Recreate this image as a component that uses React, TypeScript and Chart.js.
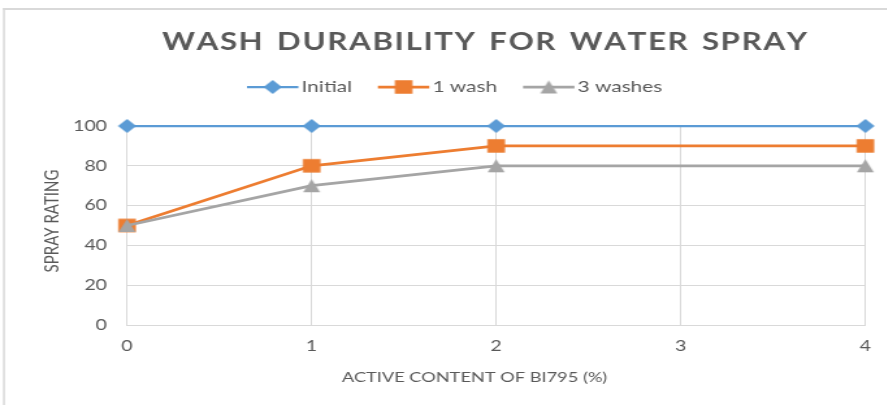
import React, { useEffect, useRef } from 'react';
import { Chart, registerables } from 'chart.js';

Chart.register(...registerables);

// ---- data ----
const xValues = [0, 1, 2, 4];
const initialRatings = [100, 100, 100, 100];
const oneWashRatings = [50, 80, 90, 90];
const threeWashRatings = [50, 70, 80, 80];
const seriesNames = ['Initial', '1 wash', '3 washes'];
const xTicks = [0, 1, 2, 3, 4];
const yTicks = [0, 20, 40, 60, 80, 100];

const titleText = 'WASH DURABILITY FOR WATER SPRAY';
const xAxisTitle = 'ACTIVE CONTENT OF BI795 (%)';
const yAxisTitle = 'SPRAY RATING';

// ---- layout / style ----
const STRETCH = 1.3;
const W = 682;
const H = 405;
const FONT = 'Lato, "Noto Sans", sans-serif';
const TEXT = '#595959';
const GRID = '#d9d9d9';
const colors = ['#5b9bd5', '#ed7d31', '#a5a5a5'];
const lineWidths = [2.25, 2.75, 2.75];

function makeMarker(kind: string, color: string, size: number): HTMLCanvasElement {
  const c = document.createElement('canvas');
  const dim = Math.ceil(size) + 4;
  c.width = dim;
  c.height = dim;
  const ctx = c.getContext('2d')!;
  const m = dim / 2;
  const h = size / 2;
  ctx.fillStyle = color;
  ctx.beginPath();
  if (kind === 'diamond') {
    ctx.moveTo(m, m - h);
    ctx.lineTo(m + h, m);
    ctx.lineTo(m, m + h);
    ctx.lineTo(m - h, m);
  } else if (kind === 'square') {
    ctx.rect(m - h, m - h, size, size);
  } else {
    ctx.moveTo(m, m - h);
    ctx.lineTo(m + h, m + h);
    ctx.lineTo(m - h, m + h);
  }
  ctx.closePath();
  ctx.fill();
  return c;
}

function drawSpaced(ctx: CanvasRenderingContext2D, text: string, cx: number, baseY: number, target: number) {
  const chars = [...text];
  const widths = chars.map((c) => ctx.measureText(c).width);
  const natural = widths.reduce((a, b) => a + b, 0);
  const spaces = chars.filter((c) => c === ' ').length;
  const unit = (target - natural) / (chars.length - 1 + 2 * spaces);
  let x = cx - target / 2;
  ctx.textAlign = 'left';
  ctx.textBaseline = 'alphabetic';
  chars.forEach((c, i) => {
    ctx.fillText(c, x, baseY);
    x += widths[i] + unit + (c === ' ' ? 2 * unit : 0);
  });
}

export default function App() {
  const ref = useRef<HTMLCanvasElement>(null);

  useEffect(() => {
    document.body.style.margin = '0';
    const canvas = ref.current!;
    const markers = [
      makeMarker('diamond', colors[0], 14),
      makeMarker('square', colors[1], 13.5),
      makeMarker('triangle', colors[2], 13),
    ];
    const series = [initialRatings, oneWashRatings, threeWashRatings];
    const datasets = series.map((vals, i) => ({
      label: seriesNames[i],
      data: xValues.map((x, j) => ({ x, y: vals[j] })),
      borderColor: colors[i],
      backgroundColor: colors[i],
      borderWidth: lineWidths[i],
      pointStyle: markers[i] as any,
      pointRadius: 7,
      pointHoverRadius: 7,
      order: 2 - i,
      clip: false as any,
      tension: 0,
    }));

    const overlay = {
      id: 'overlay',
      beforeDraw(chart: any) {
        const ctx = chart.ctx as CanvasRenderingContext2D;
        ctx.save();
        ctx.fillStyle = '#ffffff';
        ctx.fillRect(0, 0, chart.width, chart.height);
        ctx.fillStyle = GRID;
        ctx.fillRect(2.3, 8, chart.width, 2);
        ctx.fillRect(2.3, 8, 1.5, chart.height);
        ctx.restore();
      },
      afterDraw(chart: any) {
        const ctx = chart.ctx as CanvasRenderingContext2D;
        ctx.save();
        // title
        ctx.fillStyle = TEXT;
        ctx.font = `bold 24px ${FONT}`;
        drawSpaced(ctx, titleText, 372.7, 49.5, 496);

        // legend
        ctx.font = `16px ${FONT}`;
        let x = 190;
        const ly = 87;
        seriesNames.forEach((name, i) => {
          ctx.strokeStyle = colors[i];
          ctx.lineWidth = lineWidths[i];
          ctx.beginPath();
          ctx.moveTo(x, ly);
          ctx.lineTo(x + 39.5, ly);
          ctx.stroke();
          const mk = markers[i];
          ctx.drawImage(mk, x + 19.75 - mk.width / 2, ly - mk.height / 2);
          ctx.fillStyle = TEXT;
          ctx.textAlign = 'left';
          ctx.textBaseline = 'alphabetic';
          ctx.fillText(name, x + 42, 92);
          x += 42 + ctx.measureText(name).width + 20;
        });

        // x axis title
        ctx.font = `14px ${FONT}`;
        ctx.textAlign = 'center';
        ctx.textBaseline = 'alphabetic';
        ctx.fillText(xAxisTitle, 365, 381.5);

        // y axis title
        ctx.font = `15px ${FONT}`;
        ctx.translate(44.6, 221);
        ctx.rotate(-Math.PI / 2);
        ctx.fillText(yAxisTitle, 0, 0);
        ctx.restore();
      },
    };

    const chart = new Chart(canvas, {
      type: 'line',
      data: { datasets: datasets as any },
      options: {
        responsive: true,
        maintainAspectRatio: false,
        animation: false,
        events: [],
        layout: { padding: { top: 126, right: W - 666.2, left: 0, bottom: 0 } },
        plugins: {
          legend: { display: false },
          title: { display: false },
          tooltip: { enabled: false },
        },
        scales: {
          x: {
            type: 'linear',
            min: 0,
            max: 4,
            afterBuildTicks: (s: any) => {
              s.ticks = xTicks.map((v) => ({ value: v }));
            },
            afterFit: (s: any) => {
              s.height = H - 325;
            },
            grid: { color: GRID, lineWidth: 1, drawTicks: false },
            border: { color: GRID },
            ticks: { color: TEXT, font: { family: FONT, size: 15 }, padding: 12 },
          },
          y: {
            type: 'linear',
            min: 0,
            max: 100,
            afterBuildTicks: (s: any) => {
              s.ticks = yTicks.map((v) => ({ value: v }));
            },
            afterFit: (s: any) => {
              s.width = 97.7;
            },
            grid: { color: GRID, lineWidth: 1, drawTicks: false },
            border: { display: false },
            ticks: { color: TEXT, font: { family: FONT, size: 15 }, padding: 15.4 },
          },
        },
      },
      plugins: [overlay],
    });
    return () => chart.destroy();
  }, []);

  return (
    <div
      style={{
        width: W,
        height: H,
        position: 'relative',
        transform: `scaleX(${STRETCH})`,
        transformOrigin: '0 0',
      }}
    >
      <canvas ref={ref} />
    </div>
  );
}
